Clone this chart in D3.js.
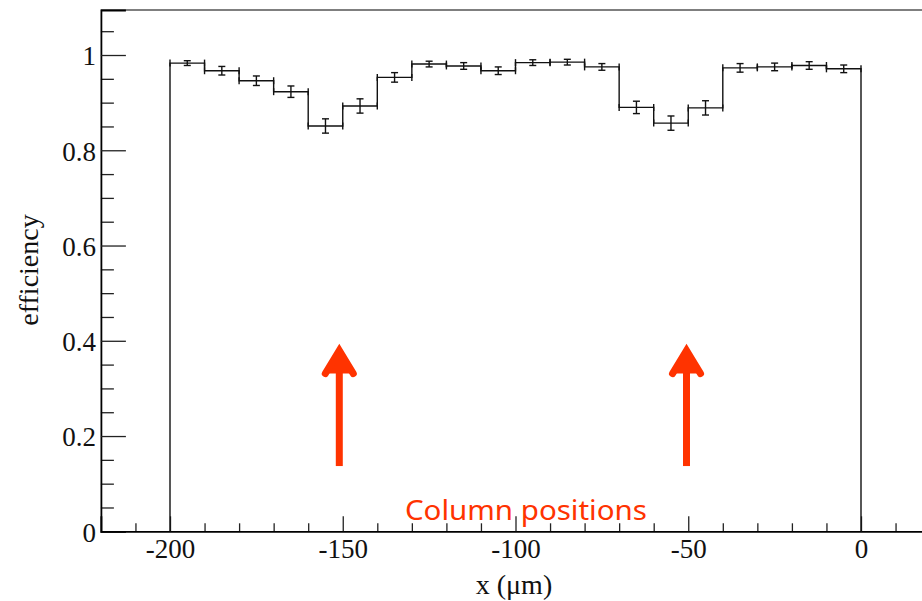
<!DOCTYPE html>
<html>
<head>
<meta charset="utf-8">
<script src="https://cdn.jsdelivr.net/npm/d3@7"></script>
<style>
  html, body { margin: 0; padding: 0; background: #fff; }
  svg { display: block; }
  .tick text, .serif { font-family: "Liberation Serif", "Times New Roman", Times, serif; }
</style>
</head>
<body>
<svg id="chart" width="922" height="601"></svg>
<script>
// Bin lower edges (µm), bin width 10 µm
const binEdges = [-200, -190, -180, -170, -160, -150, -140, -130, -120, -110,
                  -100, -90, -80, -70, -60, -50, -40, -30, -20, -10];
const binWidth = 10;
// Efficiency per bin
const efficiency = [0.983, 0.967, 0.946, 0.923, 0.851, 0.893, 0.953, 0.981, 0.977, 0.967,
                    0.984, 0.985, 0.975, 0.890, 0.857, 0.889, 0.973, 0.975, 0.978, 0.971];
// Statistical error per bin
const errors = [0.005, 0.009, 0.010, 0.012, 0.015, 0.015, 0.010, 0.006, 0.007, 0.008,
                0.006, 0.006, 0.007, 0.013, 0.015, 0.015, 0.009, 0.008, 0.008, 0.008];

const xMajorTicks = [-200, -150, -100, -50, 0];
const yMajorTicks = [0, 0.2, 0.4, 0.6, 0.8, 1];
const yTickLabels = ["0", "0.2", "0.4", "0.6", "0.8", "1"];

// Column positions marked with arrows
const columnX = [-151, -50.5];
const arrowFrom = 0.137, arrowTo = 0.392;

const svg = d3.select("#chart");
const serif = "Liberation Serif, Times New Roman, Times, serif";

const x = d3.scaleLinear().domain([-220, 20]).range([100.9, 930.1]);
const y = d3.scaleLinear().domain([0, 1.0945]).range([531.3, 10]);

// Frame: top line
svg.append("line")
  .attr("x1", x(-220)).attr("x2", x(20))
  .attr("y1", y(1.0945)).attr("y2", y(1.0945))
  .attr("stroke", "#555").attr("stroke-width", 1.6);

// Y axis: major ticks with labels, minor ticks every 0.05
const yMinor = d3.range(0, 1.0945, 0.05).filter(v => Math.abs(v / 0.2 - Math.round(v / 0.2)) > 1e-6);
svg.append("g")
  .attr("transform", `translate(${x(-220)},0)`)
  .call(d3.axisLeft(y).tickValues(yMinor).tickSize(-13).tickFormat(""))
  .call(g => g.select(".domain").remove())
  .call(g => g.selectAll("line").attr("stroke", "#222").attr("stroke-width", 1.3));

const yAxis = svg.append("g")
  .attr("transform", `translate(${x(-220)},0)`)
  .call(d3.axisLeft(y).tickValues(yMajorTicks).tickSize(-25).tickPadding(5)
        .tickFormat((d, i) => yTickLabels[i]))
  .attr("font-family", serif).attr("font-size", 27)
  .call(g => g.select(".domain").attr("stroke", "#000").attr("stroke-width", 1.8))
  .call(g => g.selectAll("line").attr("stroke", "#222").attr("stroke-width", 1.3));
yAxis.selectAll("text")
  .style("font-family", serif).style("font-size", "27px").attr("fill", "#111")
  .attr("dy", "0.36em");

// X axis: major ticks with labels, minor ticks every 10
const xMinor = d3.range(-210, 21, 10).filter(v => v % 50 !== 0);
svg.append("g")
  .attr("transform", `translate(0,${y(0)})`)
  .call(d3.axisBottom(x).tickValues(xMinor).tickSize(-8).tickFormat(""))
  .call(g => g.select(".domain").remove())
  .call(g => g.selectAll("line").attr("stroke", "#222").attr("stroke-width", 1.3));

const xAxis = svg.append("g")
  .attr("transform", `translate(0,${y(0)})`)
  .call(d3.axisBottom(x).tickValues(xMajorTicks).tickSize(-15).tickPadding(8)
        .tickFormat(d3.format("d")))
  .attr("font-family", serif).attr("font-size", 27)
  .call(g => g.select(".domain").attr("stroke", "#000").attr("stroke-width", 1.8))
  .call(g => g.selectAll("line").attr("stroke", "#222").attr("stroke-width", 1.3));
xAxis.selectAll("text")
  .style("font-family", serif).style("font-size", "27px").attr("fill", "#111")
  .text(d => d < 0 ? "-" + Math.abs(d) : String(d));

// Axis titles
svg.append("text")
  .attr("class", "serif")
  .attr("x", 514).attr("y", 594)
  .attr("text-anchor", "middle")
  .attr("font-size", 28).attr("fill", "#111")
  .text("x (\u03BCm)");

svg.append("text")
  .attr("class", "serif")
  .attr("transform", `translate(38,270) rotate(-90)`)
  .attr("text-anchor", "middle")
  .attr("font-size", 28).attr("fill", "#111")
  .text("efficiency");

// Histogram outline as a step line
const bins = binEdges.map((x0, i) => ({ x0, x1: x0 + binWidth, v: efficiency[i], e: errors[i] }));
const last = bins[bins.length - 1];
const stepPts = [[binEdges[0], 0]]
  .concat(bins.map(b => [b.x0, b.v]))
  .concat([[last.x1, last.v], [last.x1, 0]]);

svg.append("path")
  .datum(stepPts)
  .attr("fill", "none")
  .attr("stroke", "#111")
  .attr("stroke-width", 1.4)
  .attr("d", d3.line().x(d => x(d[0])).y(d => y(d[1])).curve(d3.curveStepAfter));

const marks = svg.append("g").attr("stroke", "#111").attr("stroke-width", 1.4);

// Short end markers at both edges of each bin
bins.forEach(b => {
  [b.x0, b.x1].forEach(xe => {
    marks.append("line")
      .attr("x1", x(xe)).attr("x2", x(xe))
      .attr("y1", y(b.v) - 3.5).attr("y2", y(b.v) + 3.5);
  });
});

// Error bars with caps
bins.forEach(b => {
  const cx = x((b.x0 + b.x1) / 2);
  marks.append("line")
    .attr("x1", cx).attr("x2", cx)
    .attr("y1", y(b.v + b.e)).attr("y2", y(b.v - b.e));
  [b.v + b.e, b.v - b.e].forEach(vv => {
    marks.append("line")
      .attr("x1", cx - 3.5).attr("x2", cx + 3.5)
      .attr("y1", y(vv)).attr("y2", y(vv));
  });
});

// Arrows at the column positions
const red = "#ff3300";
columnX.forEach(cx0 => {
  const cx = x(cx0);
  const tipY = y(arrowTo);
  svg.append("line")
    .attr("x1", cx).attr("x2", cx)
    .attr("y1", y(arrowFrom)).attr("y2", tipY + 10)
    .attr("stroke", red).attr("stroke-width", 7);
  svg.append("path")
    .attr("d", `M${cx - 14},${tipY + 29} L${cx},${tipY + 6} L${cx + 14},${tipY + 29}`)
    .attr("fill", red)
    .attr("stroke", red).attr("stroke-width", 7)
    .attr("stroke-linecap", "round").attr("stroke-linejoin", "miter");
});

svg.append("text")
  .attr("x", x(-132)).attr("y", 520)
  .attr("font-family", "'Comic Sans MS', 'Noto Sans', 'DejaVu Sans', sans-serif")
  .attr("font-size", 28)
  .attr("fill", red)
  .attr("textLength", 242).attr("lengthAdjust", "spacingAndGlyphs")
  .text("Column positions");
</script>
</body>
</html>
